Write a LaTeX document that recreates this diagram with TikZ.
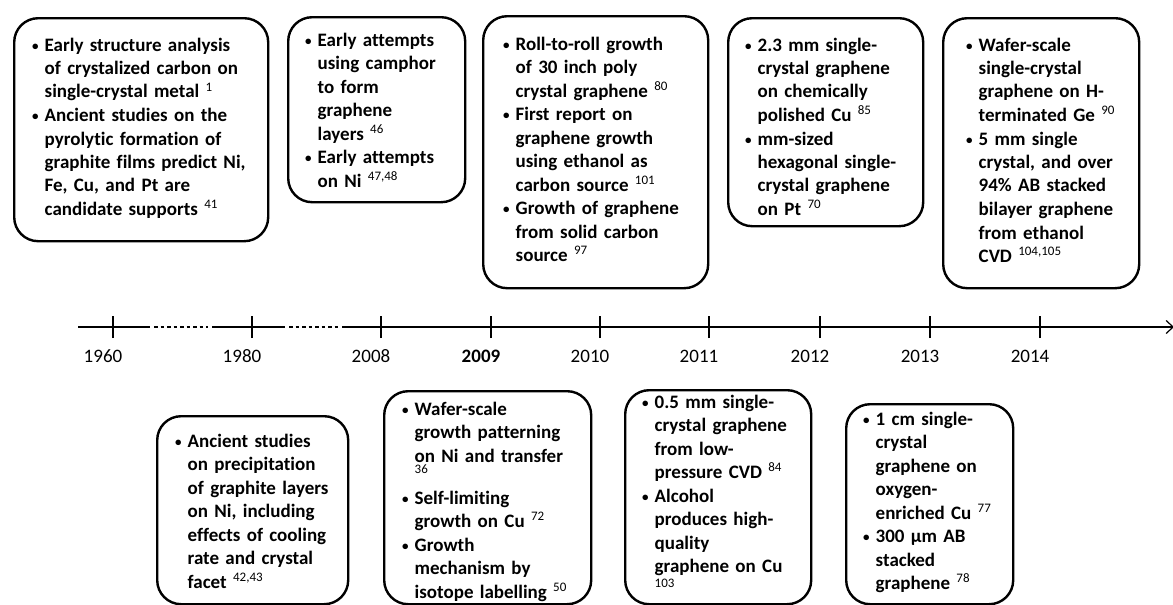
\documentclass[tikz,border=0pt]{standalone}
\usepackage{fontspec}
\setmainfont{Carlito}[Ligatures=NoCommon]
\usetikzlibrary{arrows.meta}

\newlength{\bulw}\setlength{\bulw}{12.5pt}
\newcommand{\bul}{\strut\makebox[\bulw][l]{\fontsize{13}{13}\selectfont\raisebox{1pt}{\textbullet}}}
\newcommand{\ind}{\hspace*{\bulw}}
\newcommand{\rf}[1]{\raisebox{7pt}{\fontsize{13}{13}\mdseries\selectfont #1}}

\begin{document}
\begin{tikzpicture}[x=1pt,y=-1pt,
    evbox/.style={draw,line width=2.4pt,rounded corners=24pt,anchor=north west,inner sep=0pt},
    evtxt/.style={anchor=base west,align=left,text width=240pt,inner sep=0pt,
      font=\fontsize{19}{23.5}\selectfont\bfseries},
    yr/.style={anchor=base,font=\fontsize{19}{19}\selectfont},
    ax/.style={line width=2.6pt},
    gap/.style={line width=2.6pt,dash pattern=on 3.5pt off 3pt}
  ]
  \useasboundingbox (0,0) rectangle (1173,605);

  % time axis
  \draw[ax] (78,327) -- (150,327);
  \draw[gap] (154,327) -- (208,327);
  \draw[ax] (212,327) -- (285,327);
  \draw[gap] (289,327) -- (339,327);
  \draw[ax,-{Straight Barb[length=7pt,width=13pt,line width=1.2pt]}] (342,327) -- (1174,327);
  \foreach\x/\yy in {113/1960,252/1980,381/2008,491/2009,600/2010,709/2011,820/2012,930/2013,1040/2014}{
    \coordinate (y\yy) at (\x,327);
    \draw[ax] ([yshift=-11pt]y\yy) -- ([yshift=11pt]y\yy);
  }
  \foreach\yy in {1960,1980,2008,2010,2011,2012,2013,2014}{
    \node[yr] (l\yy) at ([shift={(-10,35)}]y\yy) {\yy};
  }
  \node[yr,font=\fontsize{19}{19}\selectfont\bfseries] (l2009) at ([shift={(-10,35)}]y2009) {2009};

  % boxes above the axis
  \node[evbox,minimum width=254,minimum height=223] (b1) at (13,17) {};
  \node[evbox,minimum width=177,minimum height=185] (b2) at (287,16) {};
  \node[evbox,minimum width=225,minimum height=272] (b3) at (482,15) {};
  \node[evbox,minimum width=195,minimum height=208] (b4) at (727,17) {};
  \node[evbox,minimum width=196,minimum height=270] (b5) at (942,17) {};

  \node[evtxt] (t1) at ([shift={(19,34)}]b1.north west) {\bul Early structure analysis\\ \ind of crystalized carbon on\\ \ind single-crystal metal \rf{1}\\ \bul Ancient studies on the\\ \ind pyrolytic formation of\\ \ind graphite films predict Ni,\\ \ind Fe, Cu, and Pt are\\ \ind candidate supports \rf{41}};
  \node[evtxt] (t2) at ([shift={(18,30)}]b2.north west) {\bul Early attempts\\ \ind using camphor\\ \ind to form\\ \ind graphene\\ \ind layers \rf{46}\\ \bul Early attempts\\ \ind on Ni \rf{47,48}};
  \node[evtxt] (t3) at ([shift={(21,35)}]b3.north west) {\bul Roll-to-roll growth\\ \ind of 30 inch poly\\ \ind crystal graphene \rf{80}\\ \bul First report on\\ \ind graphene growth\\ \ind using ethanol as\\ \ind carbon source \rf{101}\\ \bul Growth of graphene\\ \ind from solid carbon\\ \ind source \rf{97}};
  \node[evtxt] (t4) at ([shift={(18,34)}]b4.north west) {\bul 2.3 mm single-\\ \ind crystal graphene\\ \ind on chemically\\ \ind polished Cu \rf{85}\\ \bul mm-sized\\ \ind hexagonal single-\\ \ind crystal graphene\\ \ind on Pt \rf{70}};
  \node[evtxt] (t5) at ([shift={(24,34)}]b5.north west) {\bul Wafer-scale\\ \ind single-crystal\\ \ind graphene on H-\\ \ind terminated Ge \rf{90}\\ \bul 5 mm single\\ \ind crystal, and over\\ \ind 94\% AB stacked\\ \ind bilayer graphene\\ \ind from ethanol\\ \ind CVD \rf{104,105}};

  % boxes below the axis
  \node[evbox,minimum width=191,minimum height=188] (b6) at (156,415) {};
  \node[evbox,minimum width=207,minimum height=213] (b7) at (383,390) {};
  \node[evbox,minimum width=186,minimum height=214] (b8) at (624,389) {};
  \node[evbox,minimum width=167,minimum height=200] (b9) at (845,403) {};

  \node[evtxt] (t6) at ([shift={(19,32)}]b6.north west) {\bul Ancient studies\\ \ind on precipitation\\ \ind of graphite layers\\ \ind on Ni, including\\ \ind effects of cooling\\ \ind rate and crystal\\ \ind facet \rf{42,43}};
  \node[evtxt] (t7) at ([shift={(19,25)}]b7.north west) {\bul Wafer-scale\\ \ind growth patterning\\ \ind on Ni and transfer\\[-5pt] \ind\rf{36}\\ \bul Self-limiting\\ \ind growth on Cu \rf{72}\\ \bul Growth\\ \ind mechanism by\\ \ind isotope labelling \rf{50}};
  \node[evtxt] (t8) at ([shift={(18,19)}]b8.north west) {\bul 0.5 mm single-\\ \ind crystal graphene\\ \ind from low-\\ \ind pressure CVD \rf{84}\\ \bul Alcohol\\ \ind produces high-\\ \ind quality\\ \ind graphene on Cu\\[-2pt] \ind\rf{103}};
  \node[evtxt] (t9) at ([shift={(18,22)}]b9.north west) {\bul 1 cm single-\\ \ind crystal\\ \ind graphene on\\ \ind oxygen-\\ \ind enriched Cu \rf{77}\\ \bul 300 µm AB\\ \ind stacked\\ \ind graphene \rf{78}};
\end{tikzpicture}
\end{document}
